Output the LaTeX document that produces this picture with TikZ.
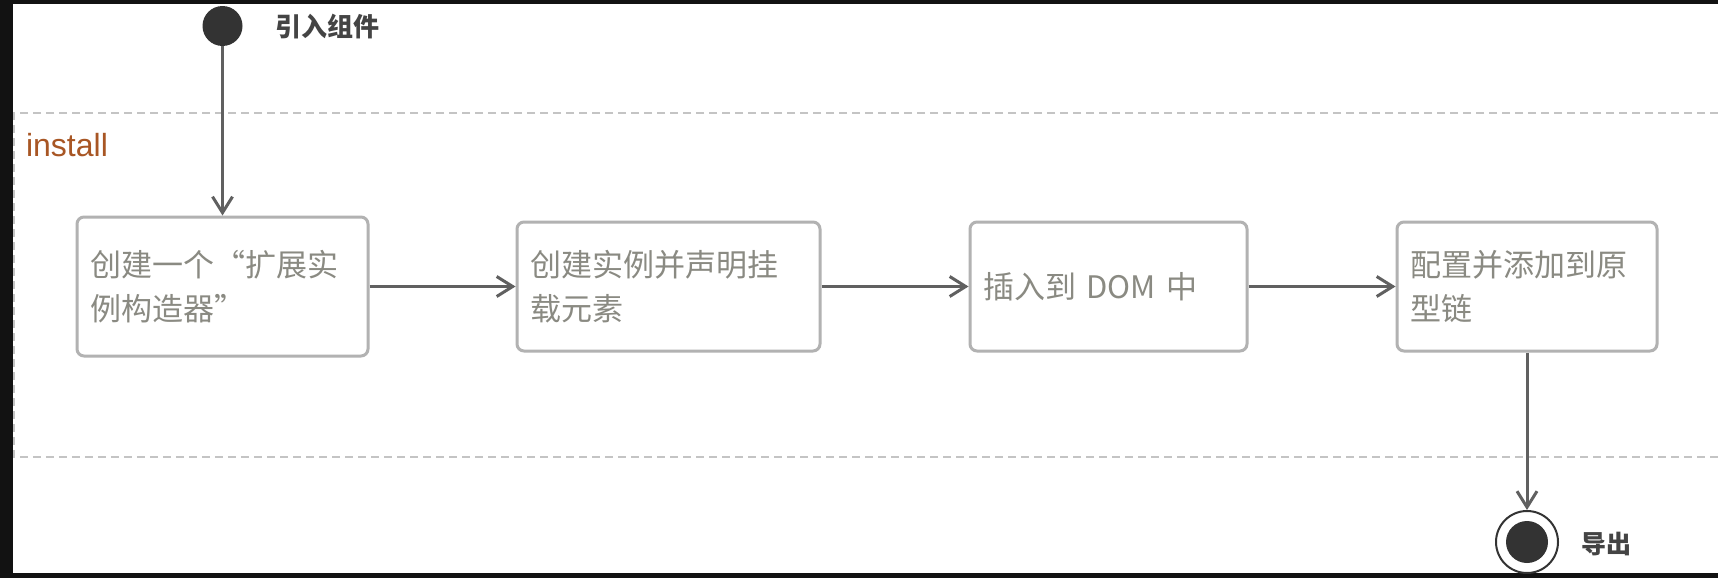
\documentclass[tikz,border=0pt]{standalone}
\usepackage{fontspec}
\usepackage{xcolor}
\usepackage{tikz}
\usetikzlibrary{arrows.meta}
\newfontfamily\cjk{Noto Sans CJK SC}
\newfontfamily\latn{Liberation Sans}
\definecolor{edgegray}{RGB}{96,96,96}
\definecolor{boxgray}{RGB}{178,178,178}
\definecolor{txtgray}{RGB}{138,138,130}
\definecolor{dotgray}{RGB}{51,51,51}
\definecolor{lblgray}{RGB}{68,68,68}
\definecolor{framegray}{RGB}{196,196,196}
\definecolor{rust}{RGB}{168,86,36}

\begin{document}
\begin{tikzpicture}[x=0.5pt, y=-0.5pt,
        stage/.style={draw=boxgray, line width=1.5pt, rounded corners=3.5pt, fill=white,
            align=left, inner xsep=6.5pt, inner ysep=0pt, text=txtgray, text width=#1,
            minimum height=64.5pt, font=\cjk\fontsize{15.5}{22}\selectfont},
        flow/.style={draw=edgegray, line width=1.5pt, -{Straight Barb[length=8pt, width=10pt]}},
        lbl/.style={anchor=west, text=lblgray, font=\cjk\bfseries\fontsize{13}{15}\selectfont}]
        \useasboundingbox (0,0) rectangle (1718,578);
        \fill[black!93] (0,0) rectangle (1718,578);
        \fill[white] (13,4) rectangle (1718,573);

        % install frame
        \draw[framegray, line width=0.75pt, dash pattern=on 4pt off 2.5pt]
            (1718,113) -- (14,113) -- (14,457) -- (1718,457);
        \node[anchor=west, text=rust, font=\latn\fontsize{16}{18}\selectfont] (install) at (19,145) {install};

        \node[circle, fill=dotgray, minimum size=20pt, inner sep=0pt] (start) at (222.5,26) {};
        \node[lbl] (startlbl) at (268,27) {引入组件};

        \node[stage=132.5pt, minimum height=69.5pt] (create) at (222.5,286.5) {创建一个“扩展实\\例构造器”};
        \node[stage=138.5pt] (mount) at (668.5,286.5) {创建实例并声明挂\\载元素};
        \node[stage=125.5pt] (insert) at (1108.5,286.5) {插入到 DOM 中};
        \node[stage=117pt] (proto) at (1527,286.5) {配置并添加到原\\型链};

        \node[circle, draw=dotgray, line width=1pt, minimum size=31pt, inner sep=0pt,
            path picture={\fill[dotgray] (path picture bounding box.center) circle (10.5pt);}] (stop) at (1527,542) {};
        \node[lbl, font=\cjk\bfseries\fontsize{12.5}{15}\selectfont] (stoplbl) at (1574,544) {导出};

        % \draw[flow] (start) -- (stop);
        \draw[flow] (start.south) -- (create.north);
        \draw[flow] (create) -- (mount);
        \draw[flow] (mount) -- (insert);
        \draw[flow] (insert) -- (proto);
        \draw[flow] (proto) -- (stop);
    \end{tikzpicture}
\end{document}
